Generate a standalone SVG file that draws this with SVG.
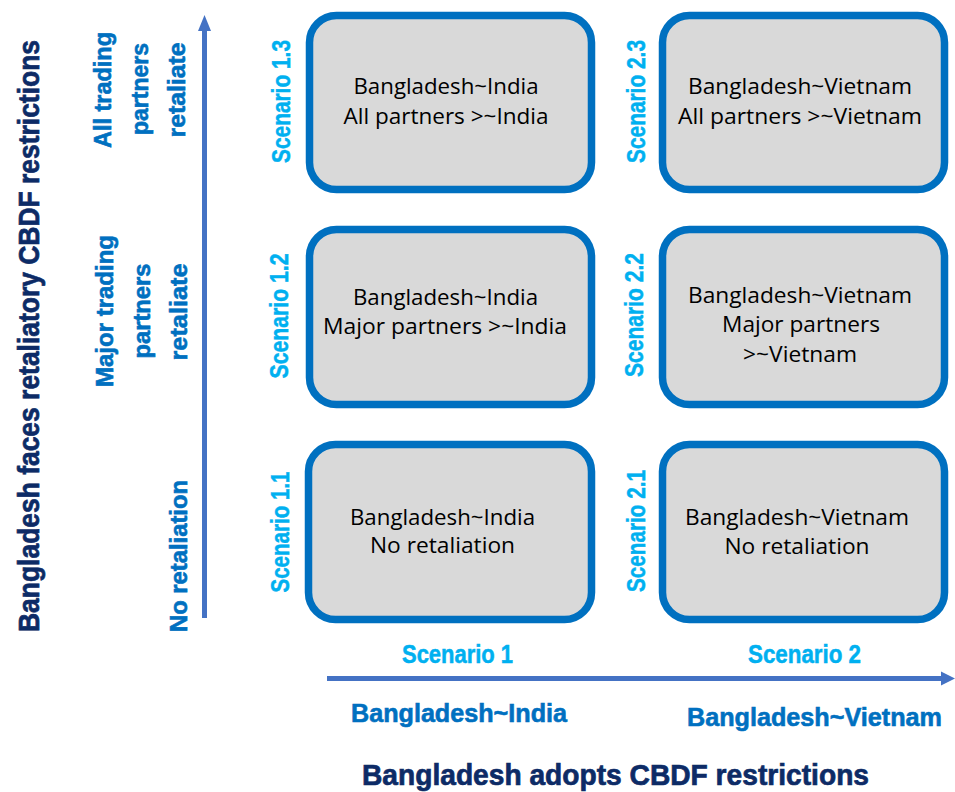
<svg xmlns="http://www.w3.org/2000/svg" width="955" height="792" viewBox="0 0 955 792">
<style>
.box{fill:#d9d9d9;stroke:#0070c0;stroke-width:7.5}
.bt{font-family:"Open Sans","Liberation Sans",sans-serif;font-size:22px;fill:#000;text-anchor:middle}
.sc{font-family:"Liberation Sans",Arial,sans-serif;font-weight:bold;font-size:25px;fill:#00b0f0;stroke:#00b0f0;stroke-width:0.5;text-anchor:middle}
.ax{font-family:"Liberation Sans",Arial,sans-serif;font-weight:bold;font-size:23px;fill:#0070c0;stroke:#0070c0;stroke-width:0.6;text-anchor:middle}
.axb{font-family:"Liberation Sans",Arial,sans-serif;font-weight:bold;font-size:26px;fill:#0070c0;stroke:#0070c0;stroke-width:0.6;text-anchor:middle}
.ti{font-family:"Liberation Sans",Arial,sans-serif;font-weight:bold;font-size:30px;fill:#0d2b66;stroke:#0d2b66;stroke-width:0.7;text-anchor:middle}
.arr{stroke:#4472c4;stroke-width:5;fill:none}
</style>

<g id="connectors">
<path class="arr" d="M204.5,618 V30"/>
<path d="M198,31 L204.5,15 L211,31 Z" fill="#4472c4"/>
<path class="arr" d="M327,678.5 H942"/>
<path d="M941,671.5 L955,678.5 L941,685.5 Z" fill="#4472c4"/>
</g>

<g id="title-y">
<text class="ti" transform="translate(39,336) rotate(-90)" textLength="592" lengthAdjust="spacingAndGlyphs">Bangladesh faces retaliatory CBDF restrictions</text>
</g>
<g id="title-x">
<text class="ti" x="615.5" y="785" textLength="507" lengthAdjust="spacingAndGlyphs">Bangladesh adopts CBDF restrictions</text>
</g>

<g id="label-all">
<text class="ax" transform="translate(111,90) rotate(-90)" textLength="116" lengthAdjust="spacingAndGlyphs">All trading</text>
<text class="ax" transform="translate(148,89) rotate(-90)" textLength="92" lengthAdjust="spacingAndGlyphs">partners</text>
<text class="ax" transform="translate(185,90) rotate(-90)" textLength="95" lengthAdjust="spacingAndGlyphs">retaliate</text>
</g>
<g id="label-major">
<text class="ax" transform="translate(113,311) rotate(-90)" textLength="152" lengthAdjust="spacingAndGlyphs">Major trading</text>
<text class="ax" transform="translate(150,311) rotate(-90)" textLength="95" lengthAdjust="spacingAndGlyphs">partners</text>
<text class="ax" transform="translate(187,312) rotate(-90)" textLength="97" lengthAdjust="spacingAndGlyphs">retaliate</text>
</g>
<g id="label-none">
<text class="ax" transform="translate(187,556) rotate(-90)" textLength="152" lengthAdjust="spacingAndGlyphs">No retaliation</text>
</g>

<g id="label-s1">
<text class="sc" x="457.5" y="663" font-size="24" textLength="111" lengthAdjust="spacingAndGlyphs">Scenario 1</text>
<text class="axb" x="459" y="722" textLength="216" lengthAdjust="spacingAndGlyphs">Bangladesh~India</text>
</g>
<g id="label-s2">
<text class="sc" x="804.5" y="663" font-size="24" textLength="113" lengthAdjust="spacingAndGlyphs">Scenario 2</text>
<text class="axb" x="814.5" y="726" textLength="255" lengthAdjust="spacingAndGlyphs">Bangladesh~Vietnam</text>
</g>

<g id="scenario-1-3">
<text class="sc" transform="translate(290,101.5) rotate(-90)" textLength="123" lengthAdjust="spacingAndGlyphs">Scenario 1.3</text>
<rect class="box" x="309.5" y="15.5" width="282" height="174" rx="27"/>
<text class="bt" x="446" y="94" textLength="185" lengthAdjust="spacingAndGlyphs">Bangladesh~India</text>
<text class="bt" x="446" y="124" textLength="205" lengthAdjust="spacingAndGlyphs">All partners &gt;~India</text>
</g>
<g id="scenario-2-3">
<text class="sc" transform="translate(645,101.5) rotate(-90)" textLength="123" lengthAdjust="spacingAndGlyphs">Scenario 2.3</text>
<rect class="box" x="662.5" y="15.5" width="282" height="174" rx="27"/>
<text class="bt" x="800" y="94" textLength="224" lengthAdjust="spacingAndGlyphs">Bangladesh~Vietnam</text>
<text class="bt" x="800" y="124" textLength="244" lengthAdjust="spacingAndGlyphs">All partners &gt;~Vietnam</text>
</g>

<g id="scenario-1-2">
<text class="sc" transform="translate(288,316) rotate(-90)" textLength="125" lengthAdjust="spacingAndGlyphs">Scenario 1.2</text>
<rect class="box" x="309.5" y="229.5" width="282" height="175" rx="27"/>
<text class="bt" x="445.5" y="305" textLength="185" lengthAdjust="spacingAndGlyphs">Bangladesh~India</text>
<text class="bt" x="445" y="334" textLength="244" lengthAdjust="spacingAndGlyphs">Major partners &gt;~India</text>
</g>
<g id="scenario-2-2">
<text class="sc" transform="translate(643,315) rotate(-90)" textLength="124" lengthAdjust="spacingAndGlyphs">Scenario 2.2</text>
<rect class="box" x="662.5" y="229.5" width="282" height="175" rx="27"/>
<text class="bt" x="800" y="303" textLength="224" lengthAdjust="spacingAndGlyphs">Bangladesh~Vietnam</text>
<text class="bt" x="801" y="332" textLength="158" lengthAdjust="spacingAndGlyphs">Major partners</text>
<text class="bt" x="800" y="361.5" textLength="114" lengthAdjust="spacingAndGlyphs">&gt;~Vietnam</text>
</g>

<g id="scenario-1-1">
<text class="sc" transform="translate(289,532) rotate(-90)" textLength="121" lengthAdjust="spacingAndGlyphs">Scenario 1.1</text>
<rect class="box" x="308.5" y="444.5" width="283" height="175" rx="27"/>
<text class="bt" x="442.5" y="525" textLength="185" lengthAdjust="spacingAndGlyphs">Bangladesh~India</text>
<text class="bt" x="442.5" y="553" textLength="145" lengthAdjust="spacingAndGlyphs">No retaliation</text>
</g>
<g id="scenario-2-1">
<text class="sc" transform="translate(645,531) rotate(-90)" textLength="122" lengthAdjust="spacingAndGlyphs">Scenario 2.1</text>
<rect class="box" x="662.5" y="444.5" width="282" height="175" rx="27"/>
<text class="bt" x="797" y="525" textLength="224" lengthAdjust="spacingAndGlyphs">Bangladesh~Vietnam</text>
<text class="bt" x="797" y="554" textLength="145" lengthAdjust="spacingAndGlyphs">No retaliation</text>
</g>
</svg>
